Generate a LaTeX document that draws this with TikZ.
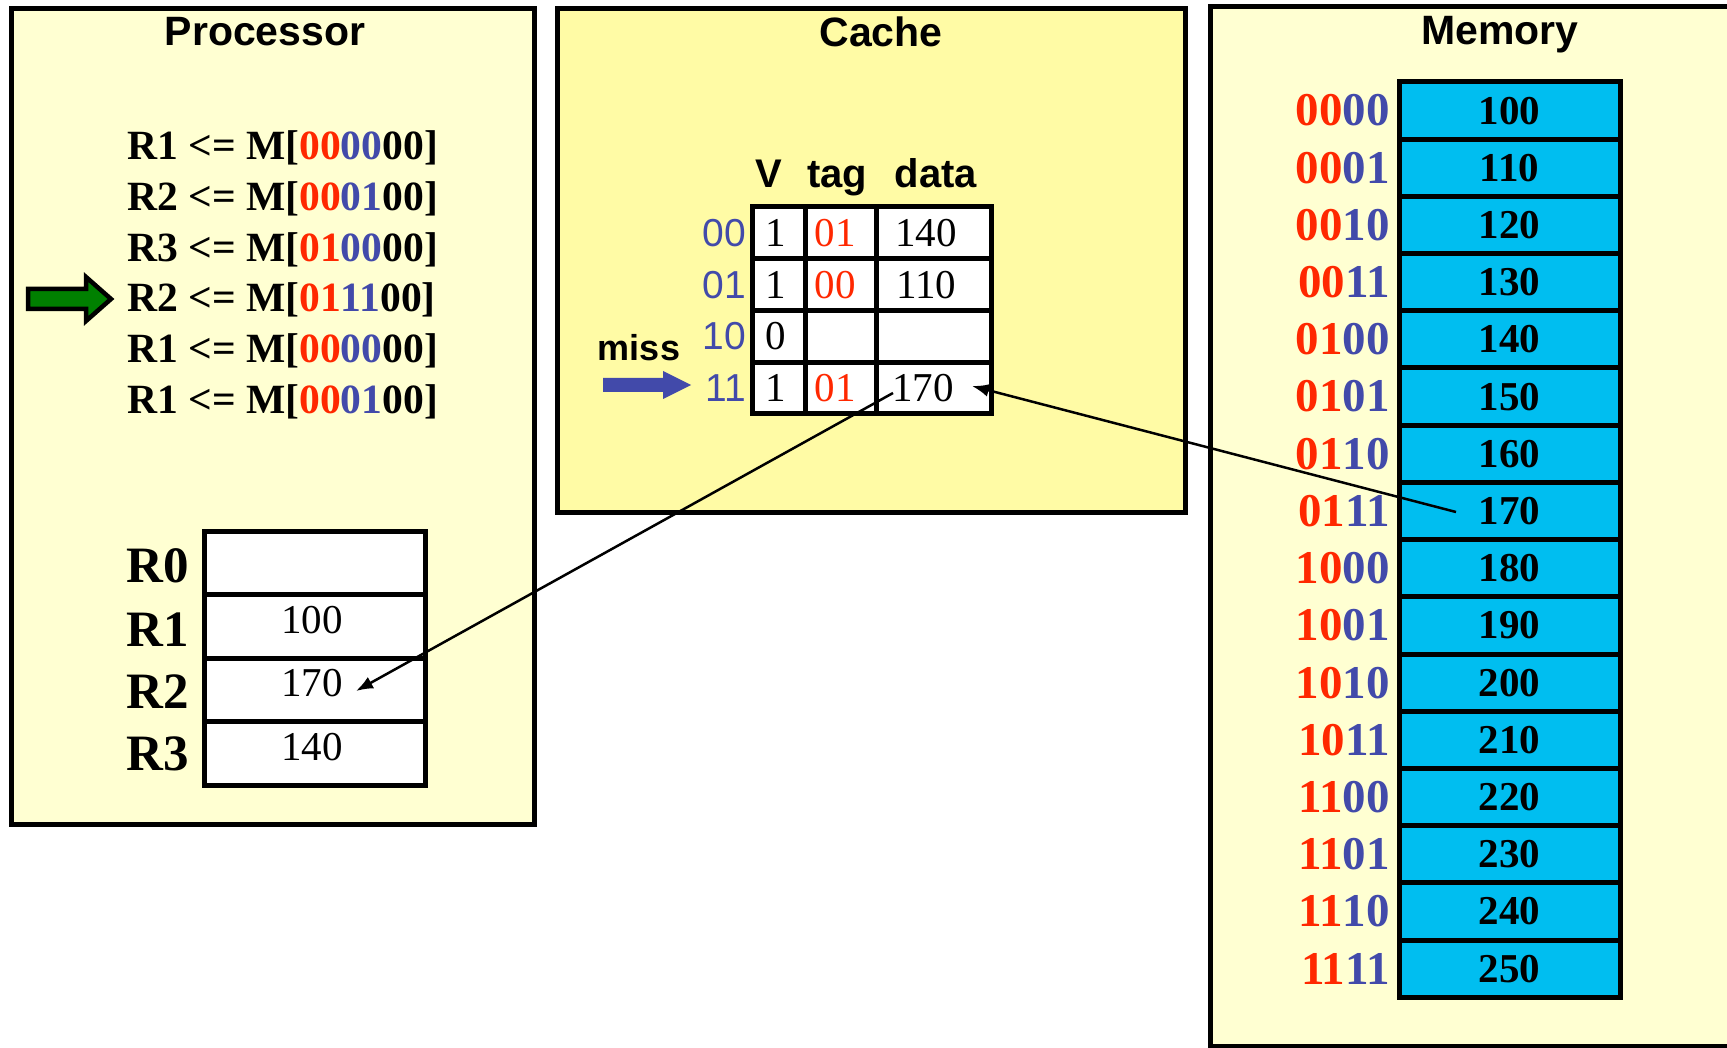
\documentclass[tikz,border=0pt]{standalone}
\usepackage{fontspec}
\setmainfont{Liberation Serif}
\setsansfont{Liberation Sans}
\usetikzlibrary{arrows.meta}
\definecolor{procbg}{RGB}{255,255,210}
\definecolor{cachebg}{RGB}{255,251,165}
\definecolor{memcellc}{RGB}{0,190,240}
\definecolor{addrred}{RGB}{255,40,0}
\definecolor{addrblue}{RGB}{66,74,170}
\definecolor{darkgreen}{RGB}{0,128,0}
\newcommand{\instrtext}[4]{#1 <= M[\textcolor{addrred}{#2}\textcolor{addrblue}{#3}00]}
\begin{document}
\begin{tikzpicture}[x=1pt,y=-1pt,
  panel/.style={line width=5pt},
  ttl/.style={font=\sffamily\bfseries\fontsize{41}{49}\selectfont, anchor=base, inner sep=0pt},
  instr/.style={font=\bfseries\fontsize{41.6}{49}\selectfont, anchor=base west, inner sep=0pt},
  regcell/.style={draw, line width=5pt, fill=white, minimum width=221pt, minimum height=63.5pt, inner sep=0pt},
  reglbl/.style={font=\bfseries\fontsize{51}{59}\selectfont, anchor=east, inner sep=0pt},
  regval/.style={font=\fontsize{41}{49}\selectfont, inner sep=0pt},
  hdr/.style={font=\sffamily\bfseries\fontsize{40}{48}\selectfont, anchor=base, inner sep=0pt},
  idx/.style={font=\sffamily\fontsize{39}{47}\selectfont, text=addrblue, anchor=east, inner sep=0pt},
  cval/.style={font=\fontsize{41}{49}\selectfont, inner sep=0pt},
  ccell/.style={draw, line width=5pt, fill=white, minimum height=51.75pt, inner sep=0pt},
  memcell/.style={draw, line width=5pt, fill=memcellc, minimum width=221pt, minimum height=57.2pt, inner sep=0pt, font=\bfseries\fontsize{41}{49}\selectfont},
  addr/.style={font=\bfseries\fontsize{47}{55}\selectfont, anchor=east, inner sep=0pt},
  conn/.style={line width=2.5pt, -{Latex[length=17pt,width=13pt]}}
]
\useasboundingbox (0,0) rectangle (1727,1048);
\clip (0,0) rectangle (1727,1048);

% ---------- Processor ----------
\draw[panel, fill=procbg] (11,9) rectangle (534,824);
\node[ttl] (ptitle) at (265,45.5) {Processor};
\node[instr] (i1) at (127,160.0) {\instrtext{R1}{00}{00}{}};
\node[instr] (i2) at (127,210.7) {\instrtext{R2}{00}{01}{}};
\node[instr] (i3) at (127,261.3) {\instrtext{R3}{01}{00}{}};
\node[instr] (i4) at (127,312.0) {\instrtext{R2}{01}{11}{}};
\node[instr] (i5) at (127,362.6) {\instrtext{R1}{00}{00}{}};
\node[instr] (i6) at (127,413.3) {\instrtext{R1}{00}{01}{}};
\draw[line width=4.5pt, fill=darkgreen, line join=miter]
  (28,289) -- (86,289) -- (86,277) -- (111,299) -- (86,321) -- (86,309) -- (28,309) -- cycle;

% register file
\node[regcell] (r0) at (314.5,562.75) {};
\node[regcell] (r1) at (314.5,626.25) {};
\node[regcell] (r2) at (314.5,689.75) {};
\node[regcell] (r3) at (314.5,753.25) {};
\node[reglbl] (l0) at (189,566) {R0};
\node[reglbl] (l1) at (189,630) {R1};
\node[reglbl] (l2) at (189,692) {R2};
\node[reglbl] (l3) at (189,754) {R3};
\node[regval] (v1) at (312,620) {100};
\node[regval] (v2) at (312,683) {170};
\node[regval] (v3) at (312,747) {140};
\coordinate (r2in) at (356,691);

% ---------- Cache ----------
\draw[panel, fill=cachebg] (557,9) rectangle (1185,512);
\node[ttl] (ctitle) at (881,46.5) {Cache};
\node[hdr] (hV) at (769,188) {V};
\node[hdr] (htag) at (837,188) {tag};
\node[hdr] (hdata) at (936,188) {data};
\foreach \r in {0,1,2,3} {
  \pgfmathsetmacro\cy{207+51.75*(\r+0.5)}
  \node[ccell, minimum width=53pt] (cv\r) at (778.5,\cy) {};
  \node[ccell, minimum width=71pt] (ct\r) at (840.5,\cy) {};
  \node[ccell, minimum width=115pt] (cd\r) at (933.5,\cy) {};
}
\node[idx] (x0) at (746,232.9) {00};
\node[idx] (x1) at (746,284.6) {01};
\node[idx] (x2) at (746,336.4) {10};
\node[idx] (x3) at (746,388.1) {11};
\node[cval] (v00) at (776,232.9) {1};
\node[cval] (v01) at (776,284.6) {1};
\node[cval] (v02) at (776,336.4) {0};
\node[cval] (v03) at (776,388.1) {1};
\node[cval, text=addrred] (t00) at (835,232.9) {01};
\node[cval, text=addrred] (t01) at (835,284.6) {00};
\node[cval, text=addrred] (t03) at (835,388.1) {01};
\node[cval] (d00) at (926,232.9) {140};
\node[cval] (d01) at (926,284.6) {110};
\node[cval] (d03) at (923,388.1) {170};
\node[font=\sffamily\bfseries\fontsize{36}{43}\selectfont, anchor=base, inner sep=0pt] (miss) at (639,361) {miss};
\fill[addrblue] (603,378) -- (663,378) -- (663,371) -- (691,385) -- (663,399) -- (663,392) -- (603,392) -- cycle;
\coordinate (cin) at (972,386);
\coordinate (cout) at (893,393);

% ---------- Memory ----------
\draw[panel, fill=procbg] (1210,7) rectangle (1760,1046);
\node[ttl] (mtitle) at (1500,44.5) {Memory};
\foreach \i in {0,...,15} {
  \pgfmathtruncatemacro\val{100+10*\i}
  \pgfmathsetmacro\my{82+57.2*(\i+0.5)}
  \node[memcell] (mem\i) at (1509.5,\my) {\val};
}
\foreach \i/\hi/\lo in {0/00/00,1/00/01,2/00/10,3/00/11,4/01/00,5/01/01,6/01/10,7/01/11,
                        8/10/00,9/10/01,10/10/10,11/10/11,12/11/00,13/11/01,14/11/10,15/11/11} {
  \pgfmathsetmacro\my{82+57.2*(\i+0.5)}
  \node[addr] (a\i) at (1390,\my) {\textcolor{addrred}{\hi}\textcolor{addrblue}{\lo}};
}
\coordinate (mout) at (1456,512);

% ---------- connectors ----------
\draw[conn] (mout) -- (cin);
\draw[conn] (cout) -- (r2in);
\end{tikzpicture}
\end{document}
